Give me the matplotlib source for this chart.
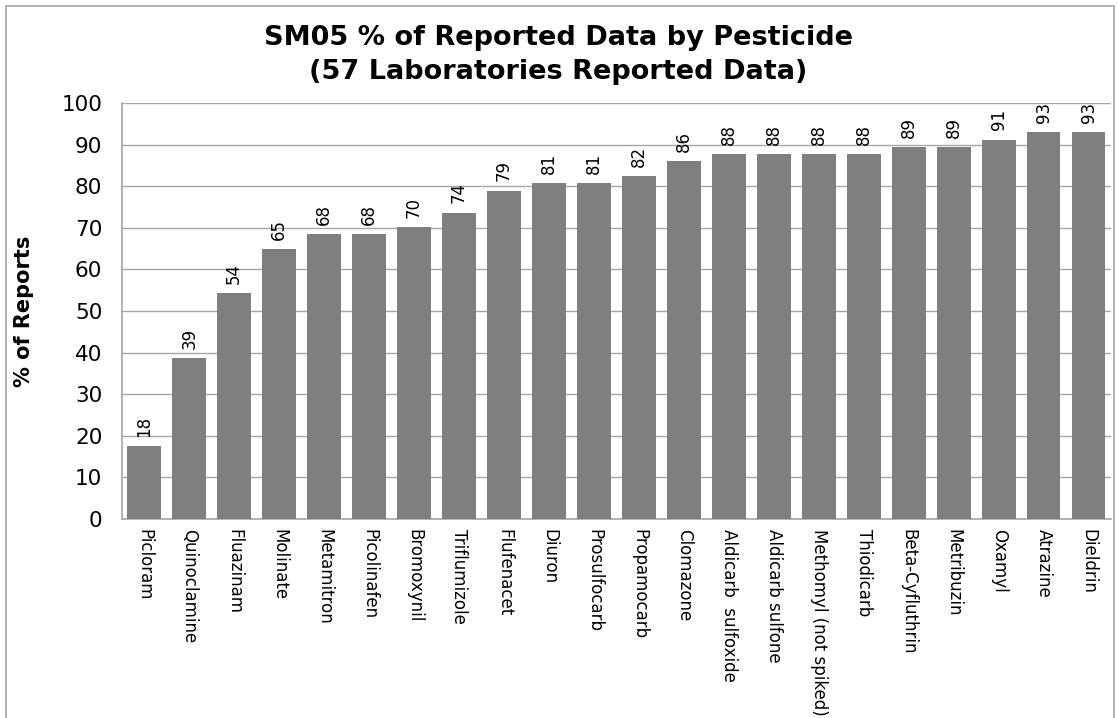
import matplotlib
matplotlib.use("Agg")
import matplotlib.pyplot as plt
from matplotlib.patches import Rectangle

pesticides = ['Picloram', 'Quinoclamine', 'Fluazinam', 'Molinate', 'Metamitron',
              'Picolinafen', 'Bromoxynil', 'Triflumizole', 'Flufenacet', 'Diuron',
              'Prosulfocarb', 'Propamocarb', 'Clomazone', 'Aldicarb  sulfoxide',
              'Aldicarb sulfone', 'Methomyl (not spiked)', 'Thiodicarb',
              'Beta-Cyfluthrin', 'Metribuzin', 'Oxamyl', 'Atrazine', 'Dieldrin']
# percent of the 57 labs reporting each compound
pct_reports = [17.54, 38.60, 54.39, 64.91, 68.42, 68.42, 70.18, 73.68, 78.95, 80.70,
               80.70, 82.46, 85.96, 87.72, 87.72, 87.72, 87.72, 89.47, 89.47, 91.23,
               92.98, 92.98]
yticks = list(range(0, 101, 10))

plt.rcParams['font.family'] = ['DejaVu Sans']
grey = '#7f7f7f'

fig = plt.figure(figsize=(11.17, 7.18), dpi=100)
fig.patches.append(Rectangle((0.005, -0.05), 0.992, 1.041, transform=fig.transFigure,
                             fill=False, edgecolor='#a6a6a6', linewidth=1.2))
ax = fig.add_axes([0.109, 0.2772, 0.8857, 0.5793])

x = range(len(pesticides))
bars = ax.bar(x, pct_reports, width=0.75, color=grey, zorder=3)

for xi, v in zip(x, pct_reports):
    ax.text(xi, v + 2.2, f'{v:.0f}', rotation=90, ha='center', va='bottom',
            fontsize=12, color='black', zorder=4)

ax.set_xlim(-0.5, len(pesticides) - 0.5)
ax.set_ylim(0, 100)
ax.set_yticks(yticks)
ax.tick_params(axis='y', labelsize=15.5, length=0, pad=14)
ax.set_xticks(list(x))
ax.set_xticklabels(pesticides, rotation=-90, fontsize=12, va='top', ha='center')
ax.tick_params(axis='x', length=0, pad=7)

ax.yaxis.grid(True, color='#a6a6a6', linewidth=1.0, zorder=0)
for side in ['top', 'right']:
    ax.spines[side].set_visible(False)
ax.spines['left'].set_color('#a6a6a6')
ax.spines['bottom'].set_color('#a6a6a6')
ax.spines['left'].set_linewidth(1.2)
ax.spines['bottom'].set_linewidth(1.2)

ax.set_ylabel('% of Reports', fontsize=15, fontweight='bold', labelpad=20)
fig.text(0.5, 0.965, 'SM05 % of Reported Data by Pesticide\n(57 Laboratories Reported Data)',
         ha='center', va='top', fontsize=19.5, fontweight='bold', linespacing=1.4)

fig.savefig('out.png', dpi=100)
